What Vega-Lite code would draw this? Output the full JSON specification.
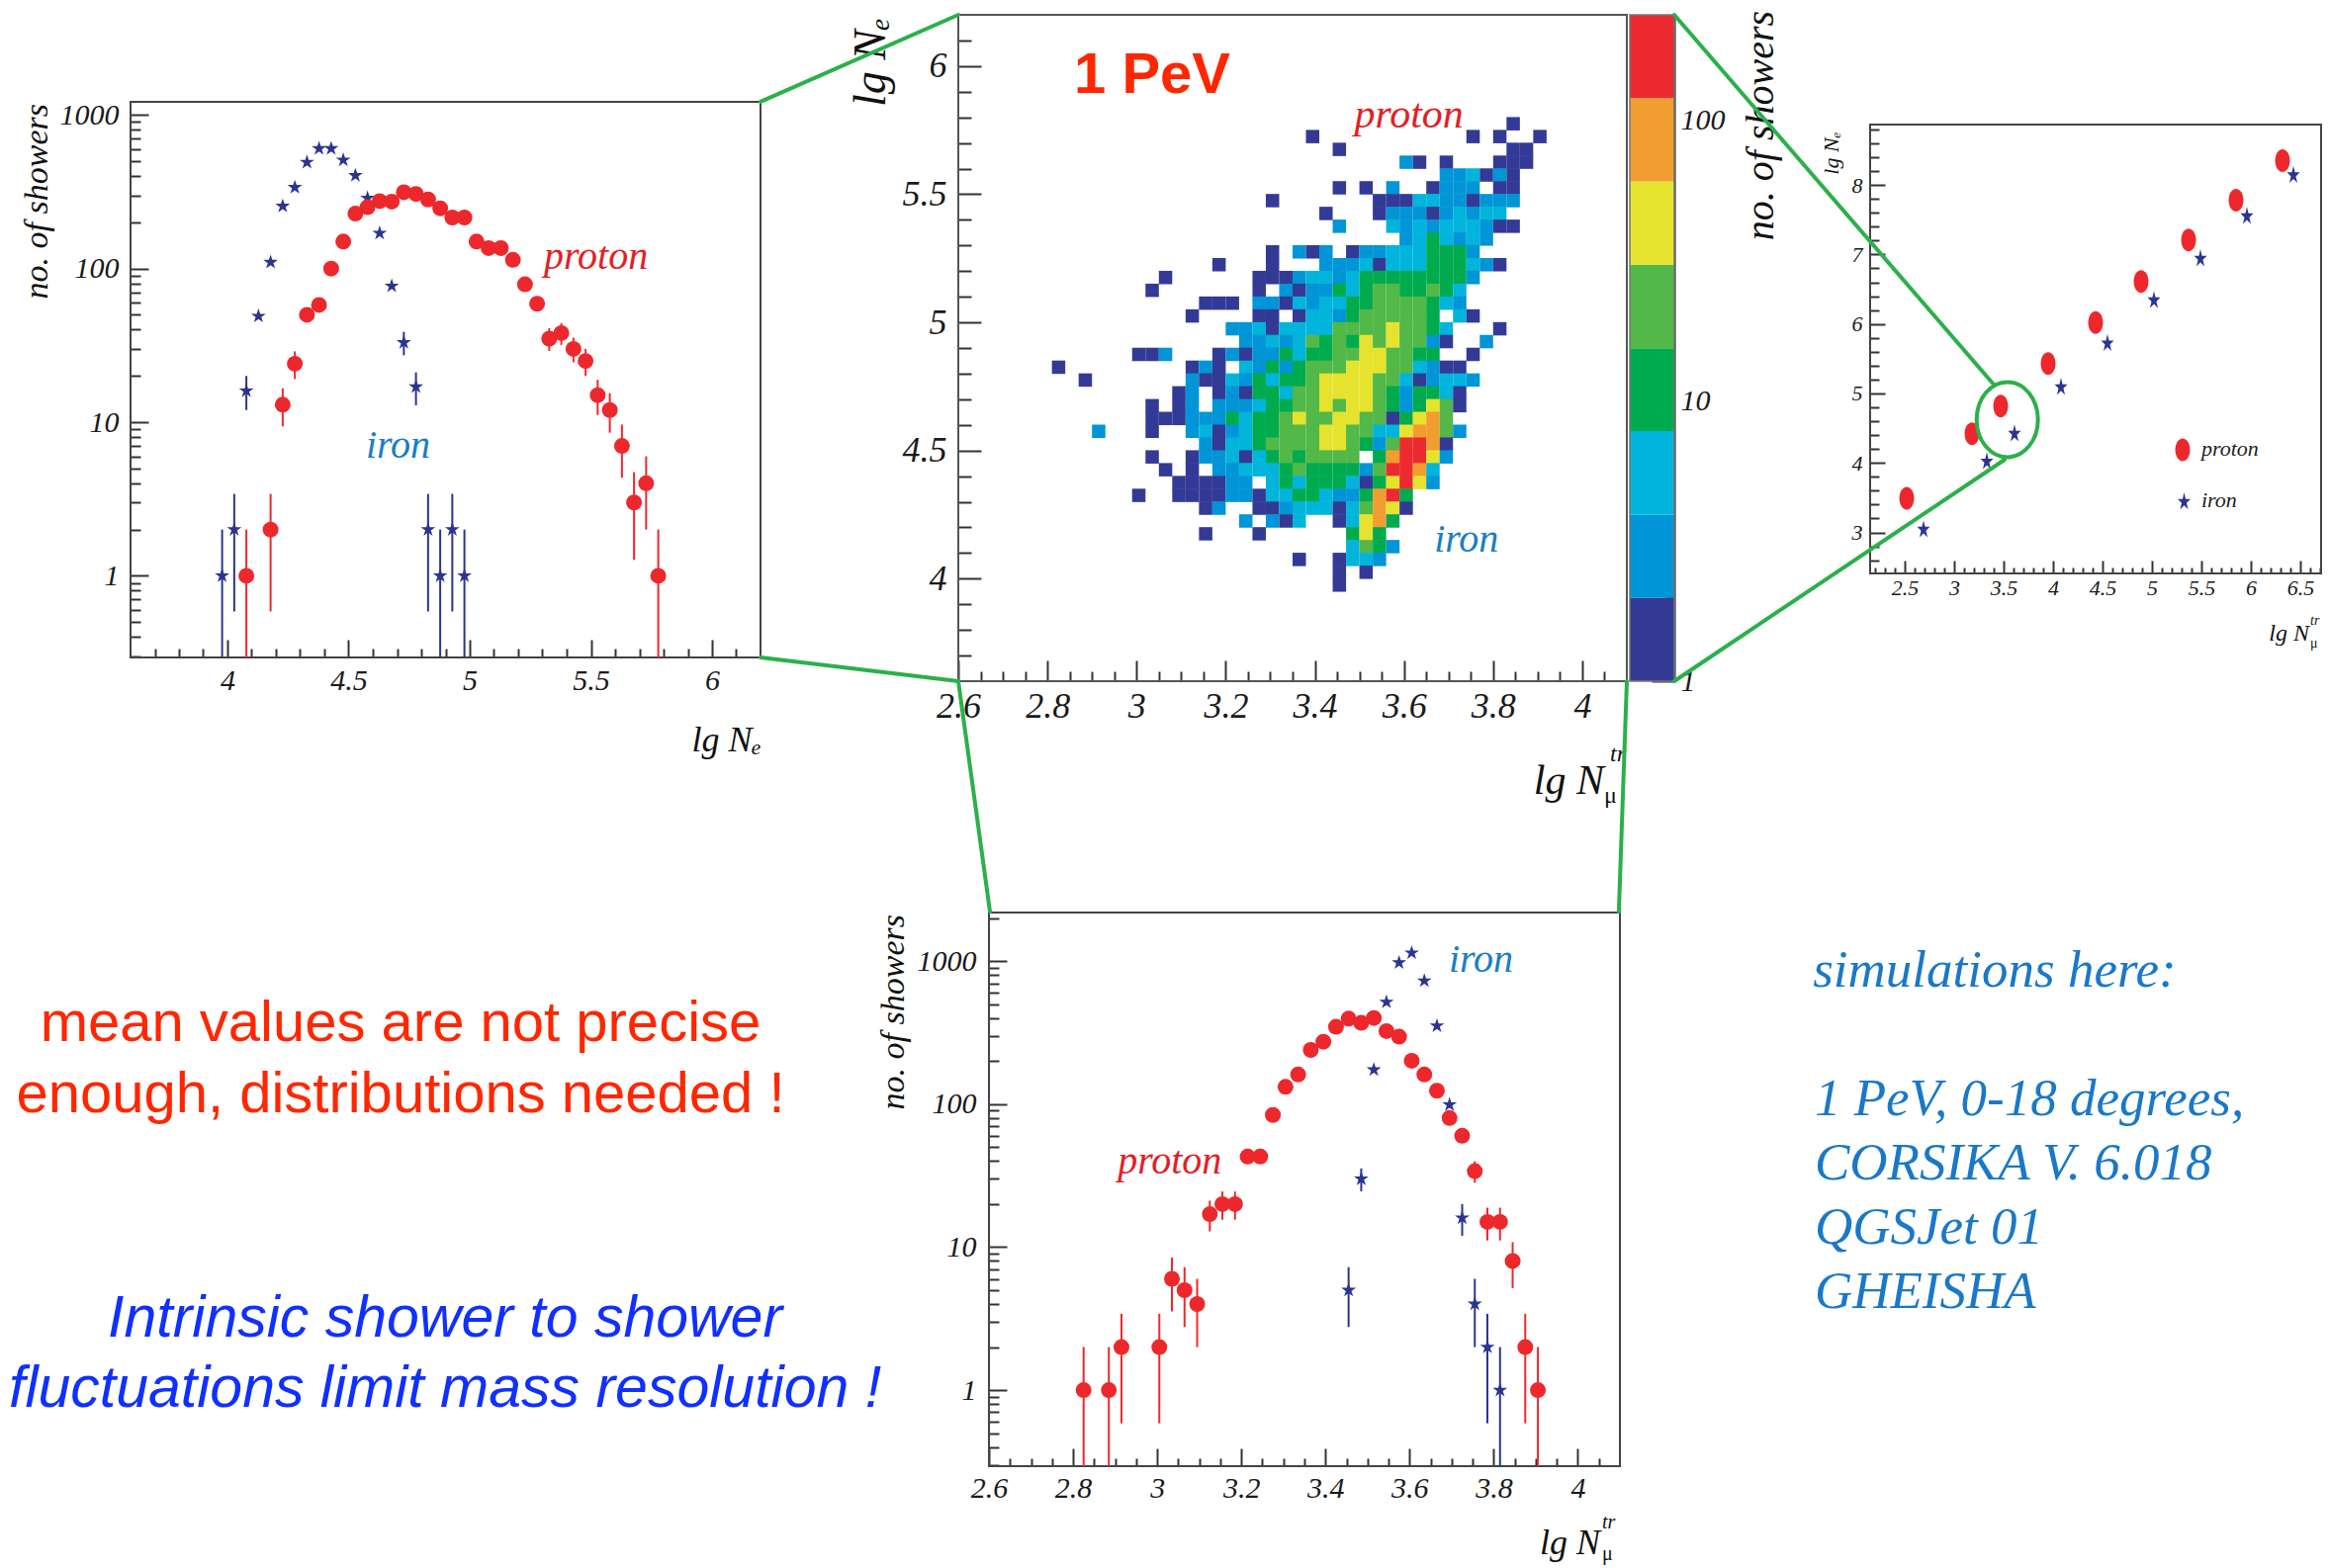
{
"$schema": "https://vega.github.io/schema/vega-lite/v6.json",
"width": 2355,
"height": 1586,
"autosize": "none",
"padding": 0,
"background": "#ffffff",
"config": {
 "view": {"stroke": null},
 "axis": {"grid": false, "domain": false, "tickColor": "#333333", "tickWidth": 2, "labelFont": "Liberation Serif", "labelFontStyle": "italic", "labelColor": "#1a1a1a", "labelFlush": false, "labelOverlap": false, "labelBound": false}
},
"datasets": {
 "Lp": [{"x":4.078,"n":1,"lo":0.294,"hi":2},{"x":4.178,"n":2,"lo":0.586,"hi":3.414},{"x":4.228,"n":13,"lo":9.39,"hi":16.61},{"x":4.278,"n":24,"lo":19.1,"hi":28.9},{"x":4.328,"n":50},{"x":4.378,"n":58},{"x":4.428,"n":100},{"x":4.478,"n":150},{"x":4.528,"n":228},{"x":4.578,"n":251},{"x":4.628,"n":275},{"x":4.678,"n":273},{"x":4.728,"n":314},{"x":4.778,"n":306},{"x":4.828,"n":282},{"x":4.878,"n":247},{"x":4.928,"n":215},{"x":4.978,"n":215},{"x":5.028,"n":150},{"x":5.078,"n":136},{"x":5.128,"n":136},{"x":5.178,"n":114},{"x":5.228,"n":79},{"x":5.278,"n":59},{"x":5.328,"n":35,"lo":29.08,"hi":40.92},{"x":5.378,"n":38,"lo":31.84,"hi":44.16},{"x":5.428,"n":30,"lo":24.52,"hi":35.48},{"x":5.478,"n":25,"lo":20,"hi":30},{"x":5.528,"n":15,"lo":11.13,"hi":18.87},{"x":5.578,"n":12,"lo":8.54,"hi":15.46},{"x":5.628,"n":7,"lo":4.35,"hi":9.65},{"x":5.678,"n":3,"lo":1.27,"hi":4.73},{"x":5.728,"n":4,"lo":2,"hi":6},{"x":5.778,"n":1,"lo":0.294,"hi":2}],
 "Li": [{"x":3.978,"n":1,"lo":0.294,"hi":2},{"x":4.028,"n":2,"lo":0.586,"hi":3.414},{"x":4.078,"n":16,"lo":12,"hi":20},{"x":4.128,"n":49},{"x":4.178,"n":110},{"x":4.228,"n":255},{"x":4.278,"n":338},{"x":4.328,"n":492},{"x":4.378,"n":605},{"x":4.428,"n":605},{"x":4.478,"n":509},{"x":4.528,"n":404},{"x":4.578,"n":288},{"x":4.628,"n":170},{"x":4.678,"n":77},{"x":4.728,"n":33,"lo":27.26,"hi":38.74},{"x":4.778,"n":17,"lo":12.88,"hi":21.12},{"x":4.828,"n":2,"lo":0.586,"hi":3.414},{"x":4.878,"n":1,"lo":0.294,"hi":2},{"x":4.928,"n":2,"lo":0.586,"hi":3.414},{"x":4.978,"n":1,"lo":0.294,"hi":2}],
 "Bp": [{"x":2.825,"n":1,"lo":0.294,"hi":2},{"x":2.885,"n":1,"lo":0.294,"hi":2},{"x":2.915,"n":2,"lo":0.586,"hi":3.414},{"x":3.005,"n":2,"lo":0.586,"hi":3.414},{"x":3.035,"n":6,"lo":3.55,"hi":8.45},{"x":3.065,"n":5,"lo":2.76,"hi":7.24},{"x":3.095,"n":4,"lo":2,"hi":6},{"x":3.125,"n":17,"lo":12.88,"hi":21.12},{"x":3.155,"n":20,"lo":15.53,"hi":24.47},{"x":3.185,"n":20,"lo":15.53,"hi":24.47},{"x":3.215,"n":43},{"x":3.245,"n":43},{"x":3.275,"n":84},{"x":3.305,"n":132},{"x":3.335,"n":161},{"x":3.365,"n":239},{"x":3.395,"n":273},{"x":3.425,"n":347},{"x":3.455,"n":396},{"x":3.485,"n":370},{"x":3.515,"n":400},{"x":3.545,"n":324},{"x":3.575,"n":296},{"x":3.605,"n":201},{"x":3.635,"n":161},{"x":3.665,"n":124},{"x":3.695,"n":80},{"x":3.725,"n":60},{"x":3.755,"n":34,"lo":28.17,"hi":39.83},{"x":3.785,"n":15,"lo":11.13,"hi":18.87},{"x":3.815,"n":15,"lo":11.13,"hi":18.87},{"x":3.845,"n":8,"lo":5.17,"hi":10.83},{"x":3.875,"n":2,"lo":0.586,"hi":3.414},{"x":3.905,"n":1,"lo":0.294,"hi":2}],
 "Bi": [{"x":3.455,"n":5,"lo":2.76,"hi":7.24},{"x":3.485,"n":30,"lo":24.52,"hi":35.48},{"x":3.515,"n":174},{"x":3.545,"n":517},{"x":3.575,"n":975},{"x":3.605,"n":1141},{"x":3.635,"n":728},{"x":3.665,"n":352},{"x":3.695,"n":99},{"x":3.725,"n":16,"lo":12,"hi":20},{"x":3.755,"n":4,"lo":2,"hi":6},{"x":3.785,"n":2,"lo":0.586,"hi":3.414},{"x":3.815,"n":1,"lo":0.294,"hi":2}],
 "Rp": [{"x":2.52,"y":3.49},{"x":3.18,"y":4.42},{"x":3.47,"y":4.82},{"x":3.95,"y":5.43},{"x":4.43,"y":6.02},{"x":4.89,"y":6.61},{"x":5.37,"y":7.21},{"x":5.85,"y":7.78},{"x":6.32,"y":8.35}],
 "Ri": [{"x":2.69,"y":3.04},{"x":3.33,"y":4.02},{"x":3.61,"y":4.42},{"x":4.08,"y":5.09},{"x":4.55,"y":5.72},{"x":5.02,"y":6.34},{"x":5.49,"y":6.94},{"x":5.96,"y":7.55},{"x":6.43,"y":8.14}],
 "CB": [{"lo":1,"hi":1.98,"n":1},{"lo":1.98,"hi":3.93,"n":3},{"lo":3.93,"hi":7.8,"n":5},{"lo":7.8,"hi":15.4,"n":10},{"lo":15.4,"hi":30.6,"n":20},{"lo":30.6,"hi":60.6,"n":40},{"lo":60.6,"hi":120,"n":80},{"lo":120,"hi":238,"n":160}],
 "conn": [{"x":2.1562,"y":5.8608,"x2":2.6,"y2":6.2},{"x":2.1562,"y":3.6926,"x2":2.6,"y2":3.6},{"x":2.6,"y":3.6,"x2":2.671,"y2":2.7011},{"x":4.1,"y":3.6,"x2":4.0821,"y2":2.7011},{"x":4.2064,"y":6.2,"x2":4.9253,"y2":4.7535},{"x":4.2064,"y":3.6,"x2":4.9475,"y2":4.4642}],
 "H": [
{"x":3.845,"y":5.775,"n":1},
{"x":3.395,"y":5.725,"n":1},{"x":3.755,"y":5.725,"n":1},{"x":3.815,"y":5.725,"n":1},{"x":3.905,"y":5.725,"n":1},
{"x":3.455,"y":5.675,"n":1},{"x":3.845,"y":5.675,"n":1},{"x":3.875,"y":5.675,"n":1},
{"x":3.605,"y":5.625,"n":3},{"x":3.635,"y":5.625,"n":1},{"x":3.695,"y":5.625,"n":1},{"x":3.815,"y":5.625,"n":1},{"x":3.845,"y":5.625,"n":1},{"x":3.875,"y":5.625,"n":1},
{"x":3.695,"y":5.575,"n":3},{"x":3.725,"y":5.575,"n":3},{"x":3.755,"y":5.575,"n":5},{"x":3.785,"y":5.575,"n":1},{"x":3.815,"y":5.575,"n":3},{"x":3.845,"y":5.575,"n":1},
{"x":3.455,"y":5.525,"n":1},{"x":3.515,"y":5.525,"n":1},{"x":3.575,"y":5.525,"n":3},{"x":3.665,"y":5.525,"n":1},{"x":3.695,"y":5.525,"n":3},{"x":3.725,"y":5.525,"n":3},{"x":3.755,"y":5.525,"n":3},{"x":3.815,"y":5.525,"n":1},{"x":3.845,"y":5.525,"n":1},
{"x":3.305,"y":5.475,"n":1},{"x":3.545,"y":5.475,"n":1},{"x":3.575,"y":5.475,"n":1},{"x":3.605,"y":5.475,"n":1},{"x":3.635,"y":5.475,"n":5},{"x":3.665,"y":5.475,"n":5},{"x":3.695,"y":5.475,"n":3},{"x":3.725,"y":5.475,"n":3},{"x":3.755,"y":5.475,"n":1},{"x":3.785,"y":5.475,"n":3},{"x":3.815,"y":5.475,"n":3},{"x":3.845,"y":5.475,"n":3},
{"x":3.425,"y":5.425,"n":1},{"x":3.545,"y":5.425,"n":1},{"x":3.575,"y":5.425,"n":3},{"x":3.605,"y":5.425,"n":3},{"x":3.635,"y":5.425,"n":3},{"x":3.665,"y":5.425,"n":1},{"x":3.695,"y":5.425,"n":3},{"x":3.725,"y":5.425,"n":5},{"x":3.755,"y":5.425,"n":3},{"x":3.785,"y":5.425,"n":5},{"x":3.815,"y":5.425,"n":5},
{"x":3.455,"y":5.375,"n":3},{"x":3.575,"y":5.375,"n":5},{"x":3.605,"y":5.375,"n":3},{"x":3.635,"y":5.375,"n":5},{"x":3.665,"y":5.375,"n":3},{"x":3.695,"y":5.375,"n":5},{"x":3.725,"y":5.375,"n":5},{"x":3.755,"y":5.375,"n":5},{"x":3.785,"y":5.375,"n":3},{"x":3.815,"y":5.375,"n":1},{"x":3.845,"y":5.375,"n":1},
{"x":3.605,"y":5.325,"n":3},{"x":3.635,"y":5.325,"n":5},{"x":3.665,"y":5.325,"n":10},{"x":3.695,"y":5.325,"n":5},{"x":3.725,"y":5.325,"n":3},{"x":3.755,"y":5.325,"n":5},{"x":3.785,"y":5.325,"n":3},
{"x":3.305,"y":5.275,"n":1},{"x":3.365,"y":5.275,"n":3},{"x":3.395,"y":5.275,"n":1},{"x":3.425,"y":5.275,"n":3},{"x":3.485,"y":5.275,"n":1},{"x":3.515,"y":5.275,"n":3},{"x":3.545,"y":5.275,"n":3},{"x":3.575,"y":5.275,"n":5},{"x":3.605,"y":5.275,"n":5},{"x":3.635,"y":5.275,"n":5},{"x":3.665,"y":5.275,"n":10},{"x":3.695,"y":5.275,"n":10},{"x":3.725,"y":5.275,"n":10},{"x":3.755,"y":5.275,"n":3},
{"x":3.185,"y":5.225,"n":1},{"x":3.305,"y":5.225,"n":1},{"x":3.425,"y":5.225,"n":3},{"x":3.455,"y":5.225,"n":3},{"x":3.485,"y":5.225,"n":3},{"x":3.515,"y":5.225,"n":5},{"x":3.545,"y":5.225,"n":1},{"x":3.575,"y":5.225,"n":5},{"x":3.605,"y":5.225,"n":5},{"x":3.635,"y":5.225,"n":5},{"x":3.665,"y":5.225,"n":10},{"x":3.695,"y":5.225,"n":10},{"x":3.725,"y":5.225,"n":10},{"x":3.755,"y":5.225,"n":5},{"x":3.785,"y":5.225,"n":3},{"x":3.815,"y":5.225,"n":1},
{"x":3.065,"y":5.175,"n":1},{"x":3.275,"y":5.175,"n":1},{"x":3.305,"y":5.175,"n":1},{"x":3.335,"y":5.175,"n":1},{"x":3.365,"y":5.175,"n":3},{"x":3.395,"y":5.175,"n":5},{"x":3.425,"y":5.175,"n":5},{"x":3.455,"y":5.175,"n":3},{"x":3.485,"y":5.175,"n":5},{"x":3.515,"y":5.175,"n":10},{"x":3.545,"y":5.175,"n":10},{"x":3.575,"y":5.175,"n":10},{"x":3.605,"y":5.175,"n":10},{"x":3.635,"y":5.175,"n":10},{"x":3.665,"y":5.175,"n":10},{"x":3.695,"y":5.175,"n":10},{"x":3.725,"y":5.175,"n":10},{"x":3.755,"y":5.175,"n":3},
{"x":3.035,"y":5.125,"n":1},{"x":3.275,"y":5.125,"n":1},{"x":3.335,"y":5.125,"n":3},{"x":3.365,"y":5.125,"n":1},{"x":3.395,"y":5.125,"n":3},{"x":3.425,"y":5.125,"n":3},{"x":3.455,"y":5.125,"n":10},{"x":3.485,"y":5.125,"n":5},{"x":3.515,"y":5.125,"n":10},{"x":3.545,"y":5.125,"n":20},{"x":3.575,"y":5.125,"n":20},{"x":3.605,"y":5.125,"n":10},{"x":3.635,"y":5.125,"n":10},{"x":3.665,"y":5.125,"n":20},{"x":3.695,"y":5.125,"n":10},{"x":3.725,"y":5.125,"n":5},
{"x":3.155,"y":5.075,"n":1},{"x":3.185,"y":5.075,"n":1},{"x":3.215,"y":5.075,"n":1},{"x":3.275,"y":5.075,"n":3},{"x":3.305,"y":5.075,"n":3},{"x":3.335,"y":5.075,"n":1},{"x":3.365,"y":5.075,"n":5},{"x":3.395,"y":5.075,"n":3},{"x":3.425,"y":5.075,"n":5},{"x":3.455,"y":5.075,"n":5},{"x":3.485,"y":5.075,"n":10},{"x":3.515,"y":5.075,"n":10},{"x":3.545,"y":5.075,"n":20},{"x":3.575,"y":5.075,"n":20},{"x":3.605,"y":5.075,"n":20},{"x":3.635,"y":5.075,"n":20},{"x":3.665,"y":5.075,"n":10},{"x":3.695,"y":5.075,"n":5},{"x":3.725,"y":5.075,"n":3},
{"x":3.125,"y":5.025,"n":1},{"x":3.275,"y":5.025,"n":1},{"x":3.305,"y":5.025,"n":1},{"x":3.365,"y":5.025,"n":1},{"x":3.395,"y":5.025,"n":5},{"x":3.425,"y":5.025,"n":5},{"x":3.455,"y":5.025,"n":3},{"x":3.485,"y":5.025,"n":10},{"x":3.515,"y":5.025,"n":20},{"x":3.545,"y":5.025,"n":20},{"x":3.575,"y":5.025,"n":20},{"x":3.605,"y":5.025,"n":20},{"x":3.635,"y":5.025,"n":20},{"x":3.665,"y":5.025,"n":10},{"x":3.725,"y":5.025,"n":5},{"x":3.755,"y":5.025,"n":1},
{"x":3.215,"y":4.975,"n":3},{"x":3.245,"y":4.975,"n":3},{"x":3.275,"y":4.975,"n":5},{"x":3.305,"y":4.975,"n":1},{"x":3.335,"y":4.975,"n":5},{"x":3.365,"y":4.975,"n":5},{"x":3.395,"y":4.975,"n":5},{"x":3.425,"y":4.975,"n":5},{"x":3.455,"y":4.975,"n":20},{"x":3.485,"y":4.975,"n":20},{"x":3.515,"y":4.975,"n":20},{"x":3.545,"y":4.975,"n":20},{"x":3.575,"y":4.975,"n":40},{"x":3.605,"y":4.975,"n":20},{"x":3.635,"y":4.975,"n":20},{"x":3.665,"y":4.975,"n":10},{"x":3.695,"y":4.975,"n":5},{"x":3.815,"y":4.975,"n":1},
{"x":3.245,"y":4.925,"n":3},{"x":3.275,"y":4.925,"n":3},{"x":3.305,"y":4.925,"n":5},{"x":3.335,"y":4.925,"n":3},{"x":3.365,"y":4.925,"n":5},{"x":3.395,"y":4.925,"n":20},{"x":3.425,"y":4.925,"n":10},{"x":3.455,"y":4.925,"n":20},{"x":3.485,"y":4.925,"n":10},{"x":3.515,"y":4.925,"n":40},{"x":3.545,"y":4.925,"n":20},{"x":3.575,"y":4.925,"n":40},{"x":3.605,"y":4.925,"n":20},{"x":3.635,"y":4.925,"n":20},{"x":3.665,"y":4.925,"n":3},{"x":3.695,"y":4.925,"n":1},{"x":3.785,"y":4.925,"n":3},
{"x":3.005,"y":4.875,"n":1},{"x":3.035,"y":4.875,"n":1},{"x":3.065,"y":4.875,"n":3},{"x":3.185,"y":4.875,"n":1},{"x":3.215,"y":4.875,"n":3},{"x":3.245,"y":4.875,"n":1},{"x":3.275,"y":4.875,"n":3},{"x":3.305,"y":4.875,"n":3},{"x":3.335,"y":4.875,"n":10},{"x":3.365,"y":4.875,"n":5},{"x":3.395,"y":4.875,"n":10},{"x":3.425,"y":4.875,"n":10},{"x":3.455,"y":4.875,"n":20},{"x":3.485,"y":4.875,"n":20},{"x":3.515,"y":4.875,"n":40},{"x":3.545,"y":4.875,"n":40},{"x":3.575,"y":4.875,"n":20},{"x":3.605,"y":4.875,"n":20},{"x":3.635,"y":4.875,"n":10},{"x":3.665,"y":4.875,"n":10},{"x":3.755,"y":4.875,"n":1},
{"x":2.825,"y":4.825,"n":1},{"x":3.125,"y":4.825,"n":1},{"x":3.155,"y":4.825,"n":3},{"x":3.185,"y":4.825,"n":1},{"x":3.245,"y":4.825,"n":5},{"x":3.275,"y":4.825,"n":3},{"x":3.305,"y":4.825,"n":10},{"x":3.335,"y":4.825,"n":3},{"x":3.365,"y":4.825,"n":10},{"x":3.395,"y":4.825,"n":20},{"x":3.425,"y":4.825,"n":20},{"x":3.455,"y":4.825,"n":20},{"x":3.485,"y":4.825,"n":40},{"x":3.515,"y":4.825,"n":40},{"x":3.545,"y":4.825,"n":40},{"x":3.575,"y":4.825,"n":20},{"x":3.605,"y":4.825,"n":20},{"x":3.635,"y":4.825,"n":5},{"x":3.665,"y":4.825,"n":3},{"x":3.695,"y":4.825,"n":1},{"x":3.725,"y":4.825,"n":1},
{"x":2.885,"y":4.775,"n":1},{"x":3.125,"y":4.775,"n":3},{"x":3.155,"y":4.775,"n":1},{"x":3.185,"y":4.775,"n":1},{"x":3.215,"y":4.775,"n":5},{"x":3.245,"y":4.775,"n":3},{"x":3.275,"y":4.775,"n":10},{"x":3.305,"y":4.775,"n":5},{"x":3.335,"y":4.775,"n":10},{"x":3.365,"y":4.775,"n":10},{"x":3.395,"y":4.775,"n":20},{"x":3.425,"y":4.775,"n":40},{"x":3.455,"y":4.775,"n":40},{"x":3.485,"y":4.775,"n":40},{"x":3.515,"y":4.775,"n":40},{"x":3.545,"y":4.775,"n":20},{"x":3.575,"y":4.775,"n":20},{"x":3.605,"y":4.775,"n":5},{"x":3.635,"y":4.775,"n":1},{"x":3.665,"y":4.775,"n":3},{"x":3.695,"y":4.775,"n":5},{"x":3.725,"y":4.775,"n":5},{"x":3.755,"y":4.775,"n":3},
{"x":3.095,"y":4.725,"n":1},{"x":3.125,"y":4.725,"n":3},{"x":3.185,"y":4.725,"n":1},{"x":3.215,"y":4.725,"n":3},{"x":3.245,"y":4.725,"n":1},{"x":3.275,"y":4.725,"n":10},{"x":3.305,"y":4.725,"n":10},{"x":3.335,"y":4.725,"n":5},{"x":3.365,"y":4.725,"n":20},{"x":3.395,"y":4.725,"n":20},{"x":3.425,"y":4.725,"n":40},{"x":3.455,"y":4.725,"n":40},{"x":3.485,"y":4.725,"n":40},{"x":3.515,"y":4.725,"n":40},{"x":3.545,"y":4.725,"n":20},{"x":3.575,"y":4.725,"n":10},{"x":3.605,"y":4.725,"n":3},{"x":3.635,"y":4.725,"n":10},{"x":3.665,"y":4.725,"n":10},{"x":3.695,"y":4.725,"n":5},{"x":3.725,"y":4.725,"n":1},
{"x":3.035,"y":4.675,"n":1},{"x":3.095,"y":4.675,"n":1},{"x":3.125,"y":4.675,"n":3},{"x":3.185,"y":4.675,"n":3},{"x":3.215,"y":4.675,"n":3},{"x":3.245,"y":4.675,"n":3},{"x":3.275,"y":4.675,"n":5},{"x":3.305,"y":4.675,"n":10},{"x":3.335,"y":4.675,"n":10},{"x":3.365,"y":4.675,"n":20},{"x":3.395,"y":4.675,"n":20},{"x":3.425,"y":4.675,"n":40},{"x":3.455,"y":4.675,"n":20},{"x":3.485,"y":4.675,"n":40},{"x":3.515,"y":4.675,"n":40},{"x":3.545,"y":4.675,"n":20},{"x":3.575,"y":4.675,"n":10},{"x":3.605,"y":4.675,"n":3},{"x":3.635,"y":4.675,"n":10},{"x":3.665,"y":4.675,"n":40},{"x":3.695,"y":4.675,"n":20},{"x":3.725,"y":4.675,"n":1},
{"x":3.035,"y":4.625,"n":1},{"x":3.065,"y":4.625,"n":1},{"x":3.095,"y":4.625,"n":1},{"x":3.125,"y":4.625,"n":3},{"x":3.155,"y":4.625,"n":3},{"x":3.185,"y":4.625,"n":3},{"x":3.215,"y":4.625,"n":10},{"x":3.245,"y":4.625,"n":5},{"x":3.275,"y":4.625,"n":10},{"x":3.305,"y":4.625,"n":10},{"x":3.335,"y":4.625,"n":20},{"x":3.365,"y":4.625,"n":40},{"x":3.395,"y":4.625,"n":20},{"x":3.425,"y":4.625,"n":20},{"x":3.455,"y":4.625,"n":40},{"x":3.485,"y":4.625,"n":40},{"x":3.515,"y":4.625,"n":20},{"x":3.545,"y":4.625,"n":20},{"x":3.575,"y":4.625,"n":1},{"x":3.605,"y":4.625,"n":10},{"x":3.635,"y":4.625,"n":40},{"x":3.665,"y":4.625,"n":80},{"x":3.695,"y":4.625,"n":20},
{"x":2.915,"y":4.575,"n":3},{"x":3.035,"y":4.575,"n":1},{"x":3.125,"y":4.575,"n":3},{"x":3.155,"y":4.575,"n":5},{"x":3.185,"y":4.575,"n":1},{"x":3.215,"y":4.575,"n":3},{"x":3.245,"y":4.575,"n":5},{"x":3.275,"y":4.575,"n":10},{"x":3.305,"y":4.575,"n":10},{"x":3.335,"y":4.575,"n":20},{"x":3.365,"y":4.575,"n":20},{"x":3.395,"y":4.575,"n":20},{"x":3.425,"y":4.575,"n":40},{"x":3.455,"y":4.575,"n":40},{"x":3.485,"y":4.575,"n":20},{"x":3.515,"y":4.575,"n":20},{"x":3.545,"y":4.575,"n":5},{"x":3.575,"y":4.575,"n":5},{"x":3.605,"y":4.575,"n":40},{"x":3.635,"y":4.575,"n":80},{"x":3.665,"y":4.575,"n":80},{"x":3.695,"y":4.575,"n":20},{"x":3.725,"y":4.575,"n":3},
{"x":3.155,"y":4.525,"n":3},{"x":3.185,"y":4.525,"n":1},{"x":3.215,"y":4.525,"n":5},{"x":3.245,"y":4.525,"n":5},{"x":3.275,"y":4.525,"n":10},{"x":3.305,"y":4.525,"n":20},{"x":3.335,"y":4.525,"n":20},{"x":3.365,"y":4.525,"n":20},{"x":3.395,"y":4.525,"n":20},{"x":3.425,"y":4.525,"n":40},{"x":3.455,"y":4.525,"n":40},{"x":3.485,"y":4.525,"n":20},{"x":3.515,"y":4.525,"n":10},{"x":3.545,"y":4.525,"n":3},{"x":3.575,"y":4.525,"n":20},{"x":3.605,"y":4.525,"n":160},{"x":3.635,"y":4.525,"n":160},{"x":3.665,"y":4.525,"n":80},{"x":3.695,"y":4.525,"n":1},
{"x":3.035,"y":4.475,"n":1},{"x":3.125,"y":4.475,"n":1},{"x":3.155,"y":4.475,"n":3},{"x":3.185,"y":4.475,"n":3},{"x":3.215,"y":4.475,"n":5},{"x":3.245,"y":4.475,"n":1},{"x":3.275,"y":4.475,"n":5},{"x":3.305,"y":4.475,"n":10},{"x":3.335,"y":4.475,"n":20},{"x":3.365,"y":4.475,"n":10},{"x":3.395,"y":4.475,"n":20},{"x":3.425,"y":4.475,"n":20},{"x":3.455,"y":4.475,"n":20},{"x":3.485,"y":4.475,"n":20},{"x":3.545,"y":4.475,"n":10},{"x":3.575,"y":4.475,"n":80},{"x":3.605,"y":4.475,"n":160},{"x":3.635,"y":4.475,"n":160},{"x":3.665,"y":4.475,"n":40},{"x":3.695,"y":4.475,"n":3},
{"x":3.065,"y":4.425,"n":1},{"x":3.125,"y":4.425,"n":1},{"x":3.185,"y":4.425,"n":3},{"x":3.215,"y":4.425,"n":3},{"x":3.245,"y":4.425,"n":5},{"x":3.275,"y":4.425,"n":5},{"x":3.305,"y":4.425,"n":5},{"x":3.335,"y":4.425,"n":10},{"x":3.365,"y":4.425,"n":20},{"x":3.395,"y":4.425,"n":10},{"x":3.425,"y":4.425,"n":10},{"x":3.455,"y":4.425,"n":10},{"x":3.485,"y":4.425,"n":10},{"x":3.515,"y":4.425,"n":3},{"x":3.545,"y":4.425,"n":20},{"x":3.575,"y":4.425,"n":160},{"x":3.605,"y":4.425,"n":160},{"x":3.635,"y":4.425,"n":80},{"x":3.665,"y":4.425,"n":5},
{"x":3.095,"y":4.375,"n":1},{"x":3.125,"y":4.375,"n":1},{"x":3.155,"y":4.375,"n":1},{"x":3.185,"y":4.375,"n":1},{"x":3.215,"y":4.375,"n":3},{"x":3.245,"y":4.375,"n":3},{"x":3.305,"y":4.375,"n":5},{"x":3.335,"y":4.375,"n":10},{"x":3.365,"y":4.375,"n":5},{"x":3.395,"y":4.375,"n":10},{"x":3.425,"y":4.375,"n":10},{"x":3.455,"y":4.375,"n":10},{"x":3.485,"y":4.375,"n":5},{"x":3.515,"y":4.375,"n":1},{"x":3.545,"y":4.375,"n":10},{"x":3.575,"y":4.375,"n":40},{"x":3.605,"y":4.375,"n":160},{"x":3.635,"y":4.375,"n":40},{"x":3.665,"y":4.375,"n":3},
{"x":3.005,"y":4.325,"n":1},{"x":3.095,"y":4.325,"n":1},{"x":3.125,"y":4.325,"n":1},{"x":3.155,"y":4.325,"n":1},{"x":3.185,"y":4.325,"n":1},{"x":3.215,"y":4.325,"n":3},{"x":3.245,"y":4.325,"n":3},{"x":3.275,"y":4.325,"n":1},{"x":3.305,"y":4.325,"n":5},{"x":3.335,"y":4.325,"n":5},{"x":3.365,"y":4.325,"n":10},{"x":3.395,"y":4.325,"n":10},{"x":3.425,"y":4.325,"n":5},{"x":3.455,"y":4.325,"n":3},{"x":3.485,"y":4.325,"n":3},{"x":3.515,"y":4.325,"n":10},{"x":3.545,"y":4.325,"n":80},{"x":3.575,"y":4.325,"n":160},{"x":3.605,"y":4.325,"n":10},
{"x":3.155,"y":4.275,"n":1},{"x":3.185,"y":4.275,"n":3},{"x":3.275,"y":4.275,"n":1},{"x":3.305,"y":4.275,"n":1},{"x":3.335,"y":4.275,"n":3},{"x":3.365,"y":4.275,"n":5},{"x":3.395,"y":4.275,"n":5},{"x":3.425,"y":4.275,"n":5},{"x":3.455,"y":4.275,"n":1},{"x":3.485,"y":4.275,"n":5},{"x":3.515,"y":4.275,"n":20},{"x":3.545,"y":4.275,"n":80},{"x":3.575,"y":4.275,"n":40},{"x":3.605,"y":4.275,"n":1},
{"x":3.245,"y":4.225,"n":3},{"x":3.305,"y":4.225,"n":3},{"x":3.335,"y":4.225,"n":1},{"x":3.365,"y":4.225,"n":5},{"x":3.455,"y":4.225,"n":1},{"x":3.485,"y":4.225,"n":5},{"x":3.515,"y":4.225,"n":40},{"x":3.545,"y":4.225,"n":80},{"x":3.575,"y":4.225,"n":10},
{"x":3.155,"y":4.175,"n":1},{"x":3.275,"y":4.175,"n":1},{"x":3.485,"y":4.175,"n":10},{"x":3.515,"y":4.175,"n":40},{"x":3.545,"y":4.175,"n":10},
{"x":3.485,"y":4.125,"n":5},{"x":3.515,"y":4.125,"n":20},{"x":3.545,"y":4.125,"n":10},{"x":3.575,"y":4.125,"n":3},
{"x":3.365,"y":4.075,"n":1},{"x":3.455,"y":4.075,"n":1},{"x":3.485,"y":4.075,"n":5},{"x":3.515,"y":4.075,"n":5},{"x":3.545,"y":4.075,"n":3},
{"x":3.455,"y":4.025,"n":1},{"x":3.515,"y":4.025,"n":1},
{"x":3.455,"y":3.975,"n":1}
 ]
},
"resolve": {"scale": {"x": "independent", "y": "independent"}, "axis": {"x": "independent", "y": "independent"}},
"layer": [
 {
  "data": {"values": [{}]},
  "mark": {"type": "rect", "fillOpacity": 0, "stroke": "#444444", "strokeWidth": 2},
  "encoding": {
   "x": {"datum": 3.6, "type": "quantitative", "scale": {"domain": [3.6, 6.2], "range": [132, 769], "nice": false, "zero": false}, "axis": {"orient": "bottom", "offset": -921, "values": [4,4.5,5,5.5,6], "format": "~g", "tickSize": -18, "labelPadding": 26, "labelFontSize": 30, "title": null}},
   "x2": {"datum": 6.2},
   "y": {"datum": 0.294, "type": "quantitative", "scale": {"type": "log", "domain": [0.294, 1218], "range": [665, 103], "nice": false}, "axis": {"orient": "left", "offset": -132, "values": [1,10,100,1000], "format": "~g", "tickSize": -18, "labelPadding": 30, "labelFontSize": 30, "title": null}},
   "y2": {"datum": 1218}
  }
 },
 {
  "data": {"values": [{}]},
  "mark": {"type": "rect", "fillOpacity": 0, "strokeOpacity": 0},
  "encoding": {
   "x": {"datum": 3.6, "type": "quantitative", "scale": {"domain": [3.6, 6.2], "range": [132, 769], "nice": false, "zero": false}, "axis": {"orient": "bottom", "offset": -921, "values": [3.7,3.8,3.9,4.1,4.2,4.3,4.4,4.6,4.7,4.8,4.9,5.1,5.2,5.3,5.4,5.6,5.7,5.8,5.9,6.1], "labels": false, "tickSize": -9, "title": null}},
   "x2": {"datum": 6.2},
   "y": {"datum": 0.294, "type": "quantitative", "scale": {"type": "log", "domain": [0.294, 1218], "range": [665, 103], "nice": false}, "axis": {"orient": "left", "offset": -132, "values": [0.3,0.4,0.5,0.6,0.7,0.8,0.9,2,3,4,5,6,7,8,9,20,30,40,50,60,70,80,90,200,300,400,500,600,700,800,900], "labels": false, "tickSize": -10, "title": null}},
   "y2": {"datum": 1218}
  }
 },
 {
  "layer": [
   {"data": {"name": "Li"}, "mark": {"type": "rule", "color": "#2b3590", "strokeWidth": 2},
    "encoding": {
     "x": {"field": "x", "type": "quantitative", "scale": {"domain": [3.6, 6.2], "range": [132, 769], "nice": false, "zero": false}, "axis": null},
     "y": {"field": "lo", "type": "quantitative", "scale": {"type": "log", "domain": [0.294, 1218], "range": [665, 103], "nice": false}, "axis": null},
     "y2": {"field": "hi"}}},
   {"data": {"name": "Lp"}, "mark": {"type": "rule", "color": "#ed282d", "strokeWidth": 2},
    "encoding": {"x": {"field": "x", "type": "quantitative", "axis": null}, "y": {"field": "lo", "type": "quantitative", "axis": null}, "y2": {"field": "hi"}}},
   {"data": {"name": "Li"}, "mark": {"type": "point", "shape": "M0,-1L0.2245,-0.309L0.9511,-0.309L0.3633,0.118L0.5878,0.809L0,0.382L-0.5878,0.809L-0.3633,0.118L-0.9511,-0.309L-0.2245,-0.309Z", "size": 243, "filled": true, "opacity": 1, "color": "#2b3590"},
    "encoding": {"x": {"field": "x", "type": "quantitative", "axis": null}, "y": {"field": "n", "type": "quantitative", "axis": null}}},
   {"data": {"name": "Lp"}, "mark": {"type": "point", "shape": "circle", "size": 256, "filled": true, "opacity": 1, "color": "#ed282d"},
    "encoding": {"x": {"field": "x", "type": "quantitative", "axis": null}, "y": {"field": "n", "type": "quantitative", "axis": null}}},
   {"data": {"values": [{}]}, "mark": {"type": "text", "text": "proton", "font": "Liberation Serif", "fontStyle": "italic", "fontSize": 40, "color": "#e41e26", "align": "left", "baseline": "alphabetic"},
    "encoding": {"x": {"datum": 5.306, "type": "quantitative", "axis": null}, "y": {"datum": 99.5, "type": "quantitative", "axis": null}}},
   {"data": {"values": [{}]}, "mark": {"type": "text", "text": "iron", "font": "Liberation Serif", "fontStyle": "italic", "fontSize": 40, "color": "#1a7ec4", "align": "left", "baseline": "alphabetic"},
    "encoding": {"x": {"datum": 4.571, "type": "quantitative", "axis": null}, "y": {"datum": 5.87, "type": "quantitative", "axis": null}}},
   {"data": {"values": [{}]}, "mark": {"type": "text", "text": "no. of showers", "font": "Liberation Serif", "fontStyle": "italic", "fontSize": 34, "color": "#111111", "align": "right", "baseline": "alphabetic", "angle": 270},
    "encoding": {"x": {"datum": 3.2571, "type": "quantitative", "axis": null}, "y": {"datum": 1182, "type": "quantitative", "axis": null}}},
   {"data": {"values": [{}]}, "mark": {"type": "text", "text": "lg Nₑ", "font": "Liberation Serif", "fontStyle": "italic", "fontSize": 36, "color": "#111111", "align": "right", "baseline": "alphabetic"},
    "encoding": {"x": {"datum": 6.2041, "type": "quantitative", "axis": null}, "y": {"datum": 0.0721, "type": "quantitative", "axis": null}}}
  ]
 },
 {
  "data": {"values": [{}]},
  "mark": {"type": "rect", "fillOpacity": 0, "stroke": "#555555", "strokeWidth": 2},
  "encoding": {
   "x": {"datum": 2.6, "type": "quantitative", "scale": {"domain": [2.6, 4.1], "range": [969, 1645], "nice": false, "zero": false}, "axis": {"orient": "bottom", "offset": -897, "values": [2.6,2.8,3,3.2,3.4,3.6,3.8,4], "format": "~g", "tickSize": -21, "labelPadding": 29, "labelFontSize": 36, "title": null}},
   "x2": {"datum": 4.1},
   "y": {"datum": 3.6, "type": "quantitative", "scale": {"domain": [3.6, 6.2], "range": [689, 15], "nice": false, "zero": false}, "axis": {"orient": "left", "offset": -969, "values": [4,4.5,5,5.5,6], "format": "~g", "tickSize": -23, "labelPadding": 35, "labelFontSize": 36, "title": null}},
   "y2": {"datum": 6.2}
  }
 },
 {
  "data": {"values": [{}]},
  "mark": {"type": "rect", "fillOpacity": 0, "strokeOpacity": 0},
  "encoding": {
   "x": {"datum": 2.6, "type": "quantitative", "scale": {"domain": [2.6, 4.1], "range": [969, 1645], "nice": false, "zero": false}, "axis": {"orient": "bottom", "offset": -897, "values": [2.65,2.7,2.75,2.85,2.9,2.95,3.05,3.1,3.15,3.25,3.3,3.35,3.45,3.5,3.55,3.65,3.7,3.75,3.85,3.9,3.95,4.05], "labels": false, "tickSize": -10, "title": null}},
   "x2": {"datum": 4.1},
   "y": {"datum": 3.6, "type": "quantitative", "scale": {"domain": [3.6, 6.2], "range": [689, 15], "nice": false, "zero": false}, "axis": {"orient": "left", "offset": -969, "values": [3.7,3.8,3.9,4.1,4.2,4.3,4.4,4.6,4.7,4.8,4.9,5.1,5.2,5.3,5.4,5.6,5.7,5.8,5.9,6.1], "labels": false, "tickSize": -13, "title": null}},
   "y2": {"datum": 6.2}
  }
 },
 {
  "layer": [
   {"data": {"name": "H"}, "mark": {"type": "point", "shape": "square", "size": 183, "filled": true, "opacity": 1, "strokeWidth": 0},
    "encoding": {
     "x": {"field": "x", "type": "quantitative", "scale": {"domain": [2.6, 4.1], "range": [969, 1645], "nice": false, "zero": false}, "axis": null},
     "y": {"field": "y", "type": "quantitative", "scale": {"domain": [3.6, 6.2], "range": [689, 15], "nice": false, "zero": false}, "axis": null},
     "color": {"field": "n", "type": "quantitative", "scale": {"type": "threshold", "domain": [2,4,8,16,31,61,121], "range": ["#333a96","#0095d6","#00b4dc","#00ab4e","#52b847","#e6e32e","#f29d2f","#ec2a2f"]}, "legend": null}}},
   {"data": {"values": [{}]}, "mark": {"type": "text", "text": "1 PeV", "font": "Liberation Sans", "fontWeight": "bold", "fontSize": 58, "color": "#ff2600", "align": "center", "baseline": "alphabetic"},
    "encoding": {"x": {"datum": 3.035, "type": "quantitative", "axis": null}, "y": {"datum": 5.896, "type": "quantitative", "axis": null}}},
   {"data": {"values": [{}]}, "mark": {"type": "text", "text": "proton", "font": "Liberation Serif", "fontStyle": "italic", "fontSize": 42, "color": "#e41e26", "align": "center", "baseline": "alphabetic"},
    "encoding": {"x": {"datum": 3.611, "type": "quantitative", "axis": null}, "y": {"datum": 5.759, "type": "quantitative", "axis": null}}},
   {"data": {"values": [{}]}, "mark": {"type": "text", "text": "iron", "font": "Liberation Serif", "fontStyle": "italic", "fontSize": 40, "color": "#1a7ec4", "align": "center", "baseline": "alphabetic"},
    "encoding": {"x": {"datum": 3.74, "type": "quantitative", "axis": null}, "y": {"datum": 4.105, "type": "quantitative", "axis": null}}},
   {"data": {"values": [{}]}, "mark": {"type": "text", "text": "lg Nₑ", "font": "Liberation Serif", "fontStyle": "italic", "fontSize": 46, "color": "#111111", "align": "right", "baseline": "alphabetic", "angle": 270},
    "encoding": {"x": {"datum": 2.4358, "type": "quantitative", "axis": null}, "y": {"datum": 6.1887, "type": "quantitative", "axis": null}}},
   {"data": {"values": [{}]}, "mark": {"type": "text", "text": "lg N", "font": "Liberation Serif", "fontStyle": "italic", "fontSize": 42, "color": "#111111", "align": "right", "baseline": "alphabetic"},
    "encoding": {"x": {"datum": 4.0489, "type": "quantitative", "axis": null}, "y": {"datum": 3.1602, "type": "quantitative", "axis": null}}},
   {"data": {"values": [{}]}, "mark": {"type": "text", "text": "tr", "font": "Liberation Serif", "fontStyle": "italic", "fontSize": 24, "color": "#111111", "align": "left", "baseline": "alphabetic"},
    "encoding": {"x": {"datum": 4.0622, "type": "quantitative", "axis": null}, "y": {"datum": 3.2875, "type": "quantitative", "axis": null}}},
   {"data": {"values": [{}]}, "mark": {"type": "text", "text": "μ", "font": "Liberation Serif", "fontSize": 24, "color": "#111111", "align": "left", "baseline": "alphabetic"},
    "encoding": {"x": {"datum": 4.0489, "type": "quantitative", "axis": null}, "y": {"datum": 3.1255, "type": "quantitative", "axis": null}}}
  ]
 },
 {
  "data": {"name": "CB"},
  "mark": {"type": "rect"},
  "encoding": {
   "x": {"datum": 0, "type": "quantitative", "scale": {"domain": [0, 1], "range": [1648, 1693], "nice": false, "zero": false}, "axis": null},
   "x2": {"datum": 1},
   "y": {"field": "lo", "type": "quantitative", "scale": {"type": "log", "domain": [1, 238], "range": [689, 15], "nice": false}, "axis": {"orient": "right", "offset": -662, "values": [1,10,100], "format": "~g", "tickSize": -23, "labelPadding": 29, "labelFontSize": 30, "domain": true, "domainColor": "#222222", "domainWidth": 2, "title": null}},
   "y2": {"field": "hi"},
   "color": {"field": "n", "type": "quantitative", "scale": {"type": "threshold", "domain": [2,4,8,16,31,61,121], "range": ["#333a96","#0095d6","#00b4dc","#00ab4e","#52b847","#e6e32e","#f29d2f","#ec2a2f"]}, "legend": null}
  }
 },
 {
  "data": {"values": [{}]},
  "mark": {"type": "rect", "fillOpacity": 0, "stroke": "#777777", "strokeWidth": 1.5},
  "encoding": {
   "x": {"datum": 0, "type": "quantitative", "scale": {"domain": [0, 1], "range": [1648, 1693], "nice": false, "zero": false}, "axis": null},
   "x2": {"datum": 1},
   "y": {"datum": 1, "type": "quantitative", "scale": {"type": "log", "domain": [1, 238], "range": [689, 15], "nice": false}, "axis": {"orient": "right", "offset": -662, "values": [2,3,4,5,6,7,8,9,20,30,40,50,60,70,80,90,200], "labels": false, "tickSize": -10, "title": null}},
   "y2": {"datum": 238}
  }
 },
 {
  "data": {"values": [{}]},
  "mark": {"type": "text", "text": "no. of showers", "font": "Liberation Serif", "fontStyle": "italic", "fontSize": 40, "color": "#111111", "align": "right", "baseline": "alphabetic", "angle": 270},
  "encoding": {
   "x": {"datum": 3.222, "type": "quantitative", "scale": {"domain": [0, 1], "range": [1648, 1693], "nice": false, "zero": false}, "axis": null},
   "y": {"datum": 245.9, "type": "quantitative", "scale": {"type": "log", "domain": [1, 238], "range": [689, 15], "nice": false}, "axis": null}
  }
 },
 {
  "data": {"values": [{}]},
  "mark": {"type": "rect", "fillOpacity": 0, "stroke": "#444444", "strokeWidth": 2},
  "encoding": {
   "x": {"datum": 2.15, "type": "quantitative", "scale": {"domain": [2.15, 6.71], "range": [1891, 2347], "nice": false, "zero": false}, "axis": {"orient": "bottom", "offset": -1006, "values": [2.5,3,3.5,4,4.5,5,5.5,6,6.5], "format": "~g", "tickSize": -13, "labelPadding": 17, "labelFontSize": 22, "title": null}},
   "x2": {"datum": 6.71},
   "y": {"datum": 2.41, "type": "quantitative", "scale": {"domain": [2.41, 8.87], "range": [580, 126], "nice": false, "zero": false}, "axis": {"orient": "left", "offset": -1891, "values": [3,4,5,6,7,8], "format": "~g", "tickSize": -15, "labelPadding": 23, "labelFontSize": 22, "title": null}},
   "y2": {"datum": 8.87}
  }
 },
 {
  "data": {"values": [{}]},
  "mark": {"type": "rect", "fillOpacity": 0, "strokeOpacity": 0},
  "encoding": {
   "x": {"datum": 2.15, "type": "quantitative", "scale": {"domain": [2.15, 6.71], "range": [1891, 2347], "nice": false, "zero": false}, "axis": {"orient": "bottom", "offset": -1006, "values": [2.2,2.3,2.4,2.6,2.7,2.8,2.9,3.1,3.2,3.3,3.4,3.6,3.7,3.8,3.9,4.1,4.2,4.3,4.4,4.6,4.7,4.8,4.9,5.1,5.2,5.3,5.4,5.6,5.7,5.8,5.9,6.1,6.2,6.3,6.4,6.6,6.7], "labels": false, "tickSize": -6, "title": null}},
   "x2": {"datum": 6.71},
   "y": {"datum": 2.41, "type": "quantitative", "scale": {"domain": [2.41, 8.87], "range": [580, 126], "nice": false, "zero": false}, "axis": {"orient": "left", "offset": -1891, "values": [2.6,2.8,3.2,3.4,3.6,3.8,4.2,4.4,4.6,4.8,5.2,5.4,5.6,5.8,6.2,6.4,6.6,6.8,7.2,7.4,7.6,7.8,8.2,8.4,8.6,8.8], "labels": false, "tickSize": -9, "title": null}},
   "y2": {"datum": 8.87}
  }
 },
 {
  "layer": [
   {"data": {"name": "Rp"}, "mark": {"type": "point", "shape": "M-0.65,0A0.65,1 0 1,1 0.65,0A0.65,1 0 1,1 -0.65,0Z", "size": 529, "filled": true, "opacity": 1, "color": "#ed282d"},
    "encoding": {
     "x": {"field": "x", "type": "quantitative", "scale": {"domain": [2.15, 6.71], "range": [1891, 2347], "nice": false, "zero": false}, "axis": null},
     "y": {"field": "y", "type": "quantitative", "scale": {"domain": [2.41, 8.87], "range": [580, 126], "nice": false, "zero": false}, "axis": null}}},
   {"data": {"name": "Ri"}, "mark": {"type": "point", "shape": "M0,-1.4L0.2245,-0.4326L0.9511,-0.4326L0.3633,0.1652L0.5878,1.1326L0,0.5348L-0.5878,1.1326L-0.3633,0.1652L-0.9511,-0.4326L-0.2245,-0.4326Z", "size": 187, "filled": true, "opacity": 1, "color": "#2b3590"},
    "encoding": {"x": {"field": "x", "type": "quantitative", "axis": null}, "y": {"field": "y", "type": "quantitative", "axis": null}}},
   {"data": {"values": [{}]}, "mark": {"type": "point", "shape": "M-0.65,0A0.65,1 0 1,1 0.65,0A0.65,1 0 1,1 -0.65,0Z", "size": 529, "filled": true, "opacity": 1, "color": "#ed282d"},
    "encoding": {"x": {"datum": 5.31, "type": "quantitative", "axis": null}, "y": {"datum": 4.19, "type": "quantitative", "axis": null}}},
   {"data": {"values": [{}]}, "mark": {"type": "point", "shape": "M0,-1.4L0.2245,-0.4326L0.9511,-0.4326L0.3633,0.1652L0.5878,1.1326L0,0.5348L-0.5878,1.1326L-0.3633,0.1652L-0.9511,-0.4326L-0.2245,-0.4326Z", "size": 187, "filled": true, "opacity": 1, "color": "#2b3590"},
    "encoding": {"x": {"datum": 5.325, "type": "quantitative", "axis": null}, "y": {"datum": 3.44, "type": "quantitative", "axis": null}}},
   {"data": {"values": [{}]}, "mark": {"type": "text", "text": "proton", "font": "Liberation Serif", "fontStyle": "italic", "fontSize": 22, "color": "#222222", "align": "left", "baseline": "alphabetic"},
    "encoding": {"x": {"datum": 5.5, "type": "quantitative", "axis": null}, "y": {"datum": 4.107, "type": "quantitative", "axis": null}}},
   {"data": {"values": [{}]}, "mark": {"type": "text", "text": "iron", "font": "Liberation Serif", "fontStyle": "italic", "fontSize": 22, "color": "#222222", "align": "left", "baseline": "alphabetic"},
    "encoding": {"x": {"datum": 5.5, "type": "quantitative", "axis": null}, "y": {"datum": 3.36, "type": "quantitative", "axis": null}}},
   {"data": {"values": [{}]}, "mark": {"type": "text", "text": "lg Nₑ", "font": "Liberation Serif", "fontStyle": "italic", "fontSize": 22, "color": "#111111", "align": "right", "baseline": "alphabetic", "angle": 270},
    "encoding": {"x": {"datum": 1.83, "type": "quantitative", "axis": null}, "y": {"datum": 8.762, "type": "quantitative", "axis": null}}},
   {"data": {"values": [{}]}, "mark": {"type": "text", "text": "lg N", "font": "Liberation Serif", "fontStyle": "italic", "fontSize": 24, "color": "#111111", "align": "right", "baseline": "alphabetic"},
    "encoding": {"x": {"datum": 6.59, "type": "quantitative", "axis": null}, "y": {"datum": 1.4425, "type": "quantitative", "axis": null}}},
   {"data": {"values": [{}]}, "mark": {"type": "text", "text": "tr", "font": "Liberation Serif", "fontStyle": "italic", "fontSize": 14, "color": "#111111", "align": "left", "baseline": "alphabetic"},
    "encoding": {"x": {"datum": 6.6, "type": "quantitative", "axis": null}, "y": {"datum": 1.67, "type": "quantitative", "axis": null}}},
   {"data": {"values": [{}]}, "mark": {"type": "text", "text": "μ", "font": "Liberation Serif", "fontSize": 14, "color": "#111111", "align": "left", "baseline": "alphabetic"},
    "encoding": {"x": {"datum": 6.6, "type": "quantitative", "axis": null}, "y": {"datum": 1.343, "type": "quantitative", "axis": null}}},
   {"data": {"values": [{}]}, "mark": {"type": "point", "shape": "M-0.816,0A0.816,1 0 1,1 0.816,0A0.816,1 0 1,1 -0.816,0Z", "size": 5776, "filled": false, "opacity": 1, "color": "#2bb04a", "strokeWidth": 4},
    "encoding": {"x": {"datum": 3.537, "type": "quantitative", "axis": null}, "y": {"datum": 4.623, "type": "quantitative", "axis": null}}}
  ]
 },
 {
  "data": {"values": [{}]},
  "mark": {"type": "rect", "fillOpacity": 0, "stroke": "#444444", "strokeWidth": 2},
  "encoding": {
   "x": {"datum": 2.6, "type": "quantitative", "scale": {"domain": [2.6, 4.1], "range": [1000, 1638], "nice": false, "zero": false}, "axis": {"orient": "bottom", "offset": -103, "values": [2.6,2.8,3,3.2,3.4,3.6,3.8,4], "format": "~g", "tickSize": -18, "labelPadding": 25, "labelFontSize": 30, "title": null}},
   "x2": {"datum": 4.1},
   "y": {"datum": 0.294, "type": "quantitative", "scale": {"type": "log", "domain": [0.294, 2185], "range": [1483, 923], "nice": false}, "axis": {"orient": "left", "offset": -1000, "values": [1,10,100,1000], "format": "~g", "tickSize": -18, "labelPadding": 31, "labelFontSize": 30, "title": null}},
   "y2": {"datum": 2185}
  }
 },
 {
  "data": {"values": [{}]},
  "mark": {"type": "rect", "fillOpacity": 0, "strokeOpacity": 0},
  "encoding": {
   "x": {"datum": 2.6, "type": "quantitative", "scale": {"domain": [2.6, 4.1], "range": [1000, 1638], "nice": false, "zero": false}, "axis": {"orient": "bottom", "offset": -103, "values": [2.65,2.7,2.75,2.85,2.9,2.95,3.05,3.1,3.15,3.25,3.3,3.35,3.45,3.5,3.55,3.65,3.7,3.75,3.85,3.9,3.95,4.05], "labels": false, "tickSize": -8, "title": null}},
   "x2": {"datum": 4.1},
   "y": {"datum": 0.294, "type": "quantitative", "scale": {"type": "log", "domain": [0.294, 2185], "range": [1483, 923], "nice": false}, "axis": {"orient": "left", "offset": -1000, "values": [0.3,0.4,0.5,0.6,0.7,0.8,0.9,2,3,4,5,6,7,8,9,20,30,40,50,60,70,80,90,200,300,400,500,600,700,800,900,2000], "labels": false, "tickSize": -10, "title": null}},
   "y2": {"datum": 2185}
  }
 },
 {
  "layer": [
   {"data": {"name": "Bi"}, "mark": {"type": "rule", "color": "#2b3590", "strokeWidth": 2},
    "encoding": {
     "x": {"field": "x", "type": "quantitative", "scale": {"domain": [2.6, 4.1], "range": [1000, 1638], "nice": false, "zero": false}, "axis": null},
     "y": {"field": "lo", "type": "quantitative", "scale": {"type": "log", "domain": [0.294, 2185], "range": [1483, 923], "nice": false}, "axis": null},
     "y2": {"field": "hi"}}},
   {"data": {"name": "Bp"}, "mark": {"type": "rule", "color": "#ed282d", "strokeWidth": 2},
    "encoding": {"x": {"field": "x", "type": "quantitative", "axis": null}, "y": {"field": "lo", "type": "quantitative", "axis": null}, "y2": {"field": "hi"}}},
   {"data": {"name": "Bi"}, "mark": {"type": "point", "shape": "M0,-1L0.2245,-0.309L0.9511,-0.309L0.3633,0.118L0.5878,0.809L0,0.382L-0.5878,0.809L-0.3633,0.118L-0.9511,-0.309L-0.2245,-0.309Z", "size": 243, "filled": true, "opacity": 1, "color": "#2b3590"},
    "encoding": {"x": {"field": "x", "type": "quantitative", "axis": null}, "y": {"field": "n", "type": "quantitative", "axis": null}}},
   {"data": {"name": "Bp"}, "mark": {"type": "point", "shape": "circle", "size": 256, "filled": true, "opacity": 1, "color": "#ed282d"},
    "encoding": {"x": {"field": "x", "type": "quantitative", "axis": null}, "y": {"field": "n", "type": "quantitative", "axis": null}}},
   {"data": {"values": [{}]}, "mark": {"type": "text", "text": "proton", "font": "Liberation Serif", "fontStyle": "italic", "fontSize": 40, "color": "#e41e26", "align": "left", "baseline": "alphabetic"},
    "encoding": {"x": {"datum": 2.906, "type": "quantitative", "axis": null}, "y": {"datum": 32.7, "type": "quantitative", "axis": null}}},
   {"data": {"values": [{}]}, "mark": {"type": "text", "text": "iron", "font": "Liberation Serif", "fontStyle": "italic", "fontSize": 40, "color": "#1a7ec4", "align": "left", "baseline": "alphabetic"},
    "encoding": {"x": {"datum": 3.693, "type": "quantitative", "axis": null}, "y": {"datum": 841, "type": "quantitative", "axis": null}}},
   {"data": {"values": [{}]}, "mark": {"type": "text", "text": "no. of showers", "font": "Liberation Serif", "fontStyle": "italic", "fontSize": 34, "color": "#111111", "align": "right", "baseline": "alphabetic", "angle": 270},
    "encoding": {"x": {"datum": 2.3978, "type": "quantitative", "axis": null}, "y": {"datum": 2116, "type": "quantitative", "axis": null}}},
   {"data": {"values": [{}]}, "mark": {"type": "text", "text": "lg N", "font": "Liberation Serif", "fontStyle": "italic", "fontSize": 36, "color": "#111111", "align": "right", "baseline": "alphabetic"},
    "encoding": {"x": {"datum": 4.0531, "type": "quantitative", "axis": null}, "y": {"datum": 0.0715, "type": "quantitative", "axis": null}}},
   {"data": {"values": [{}]}, "mark": {"type": "text", "text": "tr", "font": "Liberation Serif", "fontStyle": "italic", "fontSize": 20, "color": "#111111", "align": "left", "baseline": "alphabetic"},
    "encoding": {"x": {"datum": 4.0578, "type": "quantitative", "axis": null}, "y": {"datum": 0.108, "type": "quantitative", "axis": null}}},
   {"data": {"values": [{}]}, "mark": {"type": "text", "text": "μ", "font": "Liberation Serif", "fontSize": 20, "color": "#111111", "align": "left", "baseline": "alphabetic"},
    "encoding": {"x": {"datum": 4.0578, "type": "quantitative", "axis": null}, "y": {"datum": 0.0645, "type": "quantitative", "axis": null}}},
   {"data": {"values": [{}]}, "mark": {"type": "text", "text": ["mean values are not precise", "enough, distributions needed !"], "font": "Liberation Sans", "fontSize": 58, "lineHeight": 72, "color": "#ff2600", "align": "center", "baseline": "alphabetic"},
    "encoding": {"x": {"datum": 1.201, "type": "quantitative", "axis": null}, "y": {"datum": 275.9, "type": "quantitative", "axis": null}}},
   {"data": {"values": [{}]}, "mark": {"type": "text", "text": ["Intrinsic shower to shower", "fluctuations limit mass resolution !"], "font": "Liberation Sans", "fontStyle": "italic", "fontSize": 59, "lineHeight": 71, "color": "#1030ff", "align": "center", "baseline": "alphabetic"},
    "encoding": {"x": {"datum": 1.307, "type": "quantitative", "axis": null}, "y": {"datum": 2.365, "type": "quantitative", "axis": null}}},
   {"data": {"values": [{}]}, "mark": {"type": "text", "text": "simulations here:", "font": "Liberation Serif", "fontStyle": "italic", "fontSize": 53, "color": "#1a78c8", "align": "left", "baseline": "alphabetic"},
    "encoding": {"x": {"datum": 4.559, "type": "quantitative", "axis": null}, "y": {"datum": 662.2, "type": "quantitative", "axis": null}}},
   {"data": {"values": [{}]}, "mark": {"type": "text", "text": ["1 PeV, 0-18 degrees,", "CORSIKA V. 6.018", "QGSJet 01", "GHEISHA"], "font": "Liberation Serif", "fontStyle": "italic", "fontSize": 53, "lineHeight": 65, "color": "#1a78c8", "align": "left", "baseline": "alphabetic"},
    "encoding": {"x": {"datum": 4.563, "type": "quantitative", "axis": null}, "y": {"datum": 83.6, "type": "quantitative", "axis": null}}}
  ]
 },
 {
  "data": {"name": "conn"},
  "mark": {"type": "rule", "color": "#2bb04a", "strokeWidth": 4, "strokeCap": "round"},
  "encoding": {
   "x": {"field": "x", "type": "quantitative", "scale": {"domain": [2.6, 4.1], "range": [969, 1645], "nice": false, "zero": false}, "axis": null},
   "y": {"field": "y", "type": "quantitative", "scale": {"domain": [3.6, 6.2], "range": [689, 15], "nice": false, "zero": false}, "axis": null},
   "x2": {"field": "x2"},
   "y2": {"field": "y2"}
  }
 }
]
}
